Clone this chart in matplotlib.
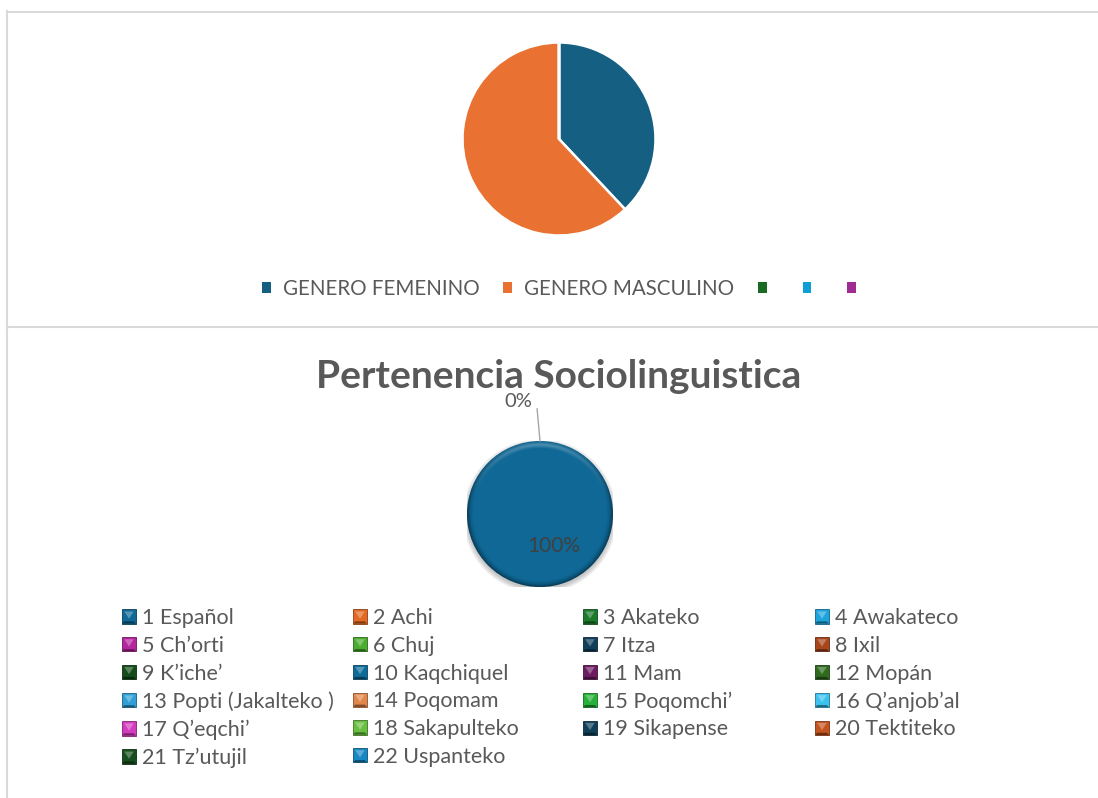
import numpy as np
import matplotlib
matplotlib.use('Agg')
import matplotlib.pyplot as plt
from matplotlib.patches import Patch, Polygon, Circle
from matplotlib.lines import Line2D
from matplotlib.legend_handler import HandlerBase

plt.rcParams['font.family'] = ['Lato', 'DejaVu Sans']

W, H = 1098, 798
TEXT_GRAY = '#595959'

# --- datos: grafica de genero ---
genero_labels = ['GENERO FEMENINO', 'GENERO MASCULINO', '', '', '']
genero_values = [38, 62, 0, 0, 0]
genero_colors = ['#156082', '#E97132', '#196B24', '#0F9ED5', '#A02B93']

# --- datos: pertenencia sociolinguistica ---
lengua_labels = [
    '1 Español', '2 Achi', '3 Akateko', '4 Awakateco',
    '5 Ch’orti', '6 Chuj', '7 Itza', '8 Ixil',
    '9 K’iche’', '10 Kaqchiquel', '11 Mam', '12 Mopán',
    '13 Popti (Jakalteko )', '14 Poqomam', '15 Poqomchi’', '16 Q’anjob’al',
    '17 Q’eqchi’', '18 Sakapulteko', '19 Sikapense', '20 Tektiteko',
    '21 Tz’utujil', '22 Uspanteko',
]
lengua_values = [100, 0, 0, 0, 0, 0, 0, 0, 0, 0, 0,
                 0, 0, 0, 0, 0, 0, 0, 0, 0, 0, 0]
lengua_colors = [
    '#0F6896', '#E36A24', '#1C7A2B', '#1EA4DC',
    '#B5259E', '#4AAD2F', '#11405B', '#A8461B',
    '#134D1B', '#0D6C99', '#6D1C62', '#2F6A1F',
    '#2F9FD6', '#E2874C', '#27B13B', '#3CC2EE',
    '#D43CC0', '#69BF3F', '#113F59', '#C4531F',
    '#174F20', '#1688C4',
]


def fx(x):
    return x / W


def fy(y):
    return 1 - y / H


class BevelHandler(HandlerBase):
    # cuadro con efecto de bisel como en Excel
    def create_artists(self, legend, orig_handle, xdescent, ydescent,
                       width, height, fontsize, trans):
        base = np.array(orig_handle.get_facecolor()[:3])
        x0, y0 = -xdescent, -ydescent
        x1, y1 = x0 + width, y0 + height
        cx, cy = (x0 + x1) / 2, (y0 + y1) / 2
        b = 0.16 * width
        light = base + (1 - base) * 0.3
        dark = base * 0.55
        edge = base * 0.6
        faces = [
            ([(x0, y0), (x1, y0), (x1, y1), (x0, y1)], base, edge),
            ([(x0 + b, y1 - b), (x1 - b, y1 - b), (cx, cy - b)], light, 'none'),
            ([(x0, y0), (x1, y0), (x1 - b, y0 + b), (x0 + b, y0 + b)], dark, 'none'),
        ]
        return [Polygon(p, closed=True, facecolor=f, edgecolor=e, linewidth=0.6,
                        transform=trans) for p, f, e in faces]


fig = plt.figure(figsize=(W / 100, H / 100), dpi=100)
fig.patch.set_facecolor('white')

# marcos de las dos graficas
frame = dict(color='#D9D9D9', linewidth=1.5)
fig.add_artist(Line2D([fx(7), fx(7)], [fy(11), 0], **frame))
fig.add_artist(Line2D([fx(7), 1], [fy(12), fy(12)], **frame))
fig.add_artist(Line2D([fx(7), 1], [fy(327), fy(327)], **frame))

# ---- grafica 1: genero ----
r1 = 96.5
ax1 = fig.add_axes([fx(559 - r1), fy(139 + r1), 2 * r1 / W, 2 * r1 / H])
ax1.pie(genero_values, colors=genero_colors, startangle=90, counterclock=False,
        wedgeprops=dict(edgecolor='white', linewidth=1.8))
ax1.set_xlim(-1, 1)
ax1.set_ylim(-1, 1)
ax1.axis('off')

h1 = [Patch(facecolor=c, edgecolor='none') for c in genero_colors]
fig.legend(h1, genero_labels, loc='center', bbox_to_anchor=(fx(565), fy(289)),
           ncol=5, frameon=False, fontsize=14.8, labelcolor=TEXT_GRAY,
           handlelength=0.42, handleheight=0.42, handletextpad=0.6,
           columnspacing=1.15, borderpad=0, borderaxespad=0)

# ---- grafica 2: pertenencia sociolinguistica ----
fig.text(fx(559), fy(388), 'Pertenencia Sociolinguistica', ha='center',
         va='baseline', fontsize=28, fontweight='bold', color=TEXT_GRAY)

r2 = 73
ax2 = fig.add_axes([fx(540 - r2), fy(514 + r2), 2 * r2 / W, 2 * r2 / H])
ax2.set_xlim(-1, 1)
ax2.set_ylim(-1, 1)
ax2.axis('off')

# sombra suave
for k in range(6):
    ax2.add_patch(Circle((0, -0.03), 1.0 + 0.012 * k, facecolor='#000000',
                         alpha=0.04, edgecolor='none', zorder=0))

wedges, _ = ax2.pie(lengua_values, colors=lengua_colors, startangle=90,
                    counterclock=False, wedgeprops=dict(linewidth=0))
ax2.set_xlim(-1, 1)
ax2.set_ylim(-1, 1)

# bisel: borde oscuro y brillo arriba
g = np.linspace(-1, 1, 400)
gx, gy = np.meshgrid(g, g[::-1])
rr = np.hypot(gx, gy)
rim = np.clip((rr - 0.9) / 0.1, 0, 1)
shade = np.zeros(rr.shape + (4,))
shade[..., 3] = rim ** 2 * (0.45 - 0.4 * np.clip(gy, 0, 1))
light = np.ones(rr.shape + (4,))
band = np.clip(1 - np.abs(rr - 0.95) / 0.05, 0, 1)
light[..., 3] = 0.3 * band * np.clip(gy, 0, 1) ** 2
clip = Circle((0, 0), 1, transform=ax2.transData)
for img in (shade, light):
    im = ax2.imshow(img, extent=(-1, 1, -1, 1), zorder=3, interpolation='bilinear')
    im.set_clip_path(clip)
ax2.set_xlim(-1, 1)
ax2.set_ylim(-1, 1)

total = sum(lengua_values)
ax2.text(0.19, -0.44, f'{lengua_values[0] / total:.0%}', ha='center', va='center',
         fontsize=15, color='#404040', zorder=5)

zero = wedges[1]
a0 = np.deg2rad(zero.theta1)
sx, sy = np.cos(a0), np.sin(a0)
ax2.plot([sx, sx - 0.04], [sy, sy + 0.44], color='#A6A6A6', linewidth=1,
         clip_on=False, zorder=5)
ax2.text(sx - 0.30, sy + 0.54, f'{lengua_values[1] / total:.0%}', ha='center',
         va='center', fontsize=14.5, color=TEXT_GRAY, clip_on=False, zorder=5)

# leyenda en 4 columnas de igual ancho
col_x = [122, 353, 583, 815]
for c in range(4):
    idx = list(range(c, len(lengua_labels), 4))
    hs = [Patch(facecolor=lengua_colors[i]) for i in idx]
    ls = [lengua_labels[i] for i in idx]
    fig.legend(hs, ls, loc='upper left', bbox_to_anchor=(fx(col_x[c]), fy(608)),
               frameon=False, fontsize=15.5, labelcolor=TEXT_GRAY,
               handlelength=0.65, handleheight=0.65, handletextpad=0.3,
               labelspacing=0.36, borderpad=0, borderaxespad=0,
               handler_map={Patch: BevelHandler()})

fig.savefig('out.png', dpi=100)
